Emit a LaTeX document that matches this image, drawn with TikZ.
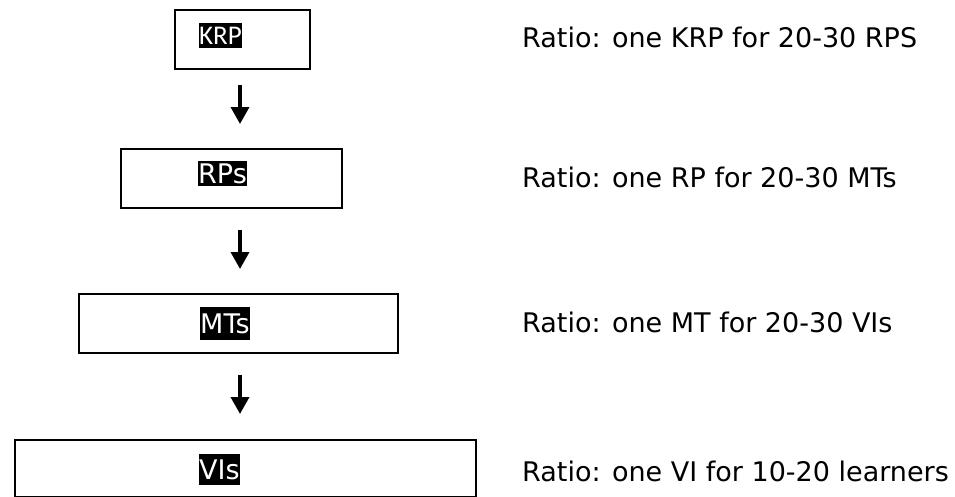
\documentclass[tikz,border=0pt]{standalone}
\usepackage{fontspec}
\setmainfont{DejaVu Sans}
\newfontfamily\krpfont{Carlito}
\usetikzlibrary{arrows.meta}
\tikzset{
  box/.style={draw=black, line width=1.8pt, rectangle, inner sep=0pt, anchor=north west},
  hl/.style={fill=black, text=white, inner sep=0pt, anchor=north west, font=\fontsize{27}{32}\selectfont},
  ratio/.style={anchor=base west, inner sep=0pt, font=\fontsize{27}{32}\selectfont},
  flow/.style={line width=3.5pt, -{Triangle[width=18pt,length=17pt]}},
}
\begin{document}
\begin{tikzpicture}[x=1pt,y=-1pt]
\useasboundingbox (0,0) rectangle (955,496);
% boxes
\node[box, minimum width=135pt, minimum height=59pt] (b1) at (174,9) {};
\node[box, minimum width=221pt, minimum height=59pt] (b2) at (120,148) {};
\node[box, minimum width=319pt, minimum height=59pt] (b3) at (78,293) {};
\node[box, minimum width=461pt, minimum height=57pt] (b4) at (14,439) {};
% labels
\node[hl, minimum height=25pt, font=\krpfont\fontsize{27}{32}\selectfont] (l1) at (199,23) {KRP};
\node[hl, minimum height=25pt] (l2) at (198,161) {RPs};
\node[hl, minimum height=33pt] (l3) at (200,307) {MTs};
\node[hl, minimum height=31pt] (l4) at (199,454) {VIs};
% arrows
\coordinate (ax) at (240,0);
\draw[flow, shorten <=15pt, shorten >=24pt] (b1.south -| ax) -- (b2.north -| ax);
\draw[flow, shorten <=21pt, shorten >=24pt] (b2.south -| ax) -- (b3.north -| ax);
\draw[flow, shorten <=21pt, shorten >=25pt] (b3.south -| ax) -- (b4.north -| ax);
% ratio texts
\node[ratio] (r1) at (522,47) {Ratio: one KRP for 20-30 RPS};
\node[ratio] (r2) at (522,187) {Ratio: one RP for 20-30 MTs};
\node[ratio] (r3) at (522,332) {Ratio: one MT for 20-30 VIs};
\node[ratio] (r4) at (522,481) {Ratio: one VI for 10-20 learners};
\end{tikzpicture}
\end{document}
